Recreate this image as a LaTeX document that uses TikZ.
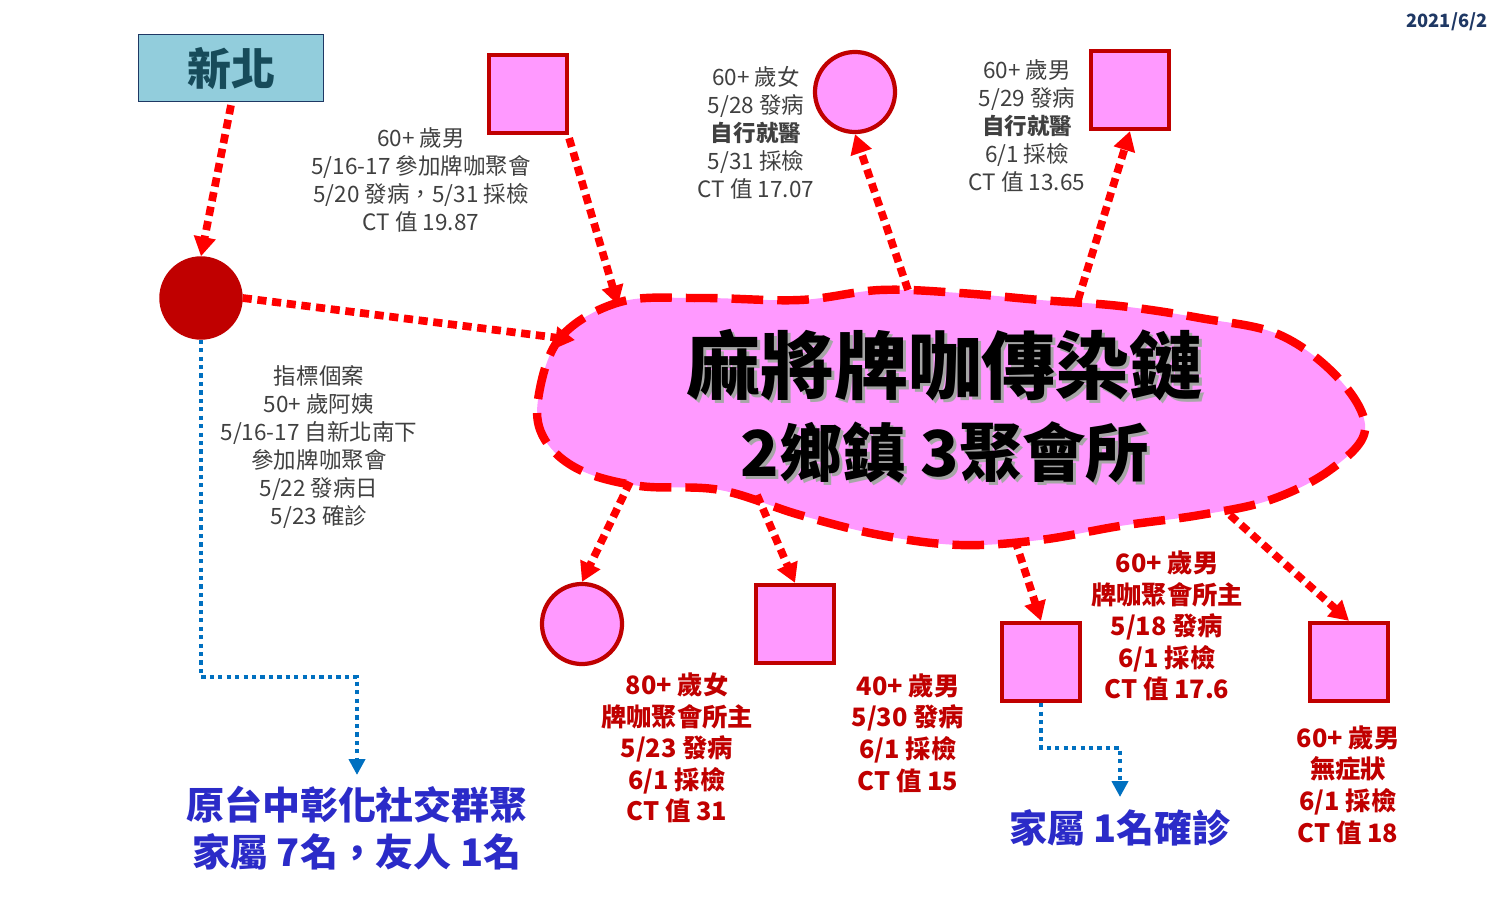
\documentclass[tikz,border=0pt]{standalone}
\usepackage{fontspec}
\setmainfont{Noto Sans CJK TC}
\usetikzlibrary{shapes,arrows,arrows.meta,positioning}
\definecolor{casepink}{HTML}{FF99FF}
\definecolor{caseborder}{HTML}{C00000}
\definecolor{graytext}{HTML}{404040}
\definecolor{bluetext}{HTML}{2B2BC8}
\definecolor{arrowblue}{HTML}{0070C0}
\tikzset{
  casebox/.style={rectangle,draw=caseborder,fill=casepink,line width=1.2pt,minimum size=0.78cm,inner sep=0pt},
  casedot/.style={circle,draw=caseborder,fill=casepink,line width=1.2pt,minimum size=0.8cm,inner sep=0pt},
  graynote/.style={align=center,text=graytext,font=\fontsize{6.4}{8}\selectfont},
  rednote/.style={align=center,text=caseborder,font=\fontsize{7.2}{9}\selectfont\bfseries},
  bluenote/.style={align=center,text=bluetext,font=\fontsize{10.8}{13.5}\selectfont\bfseries},
  redlink/.style={draw=red,line width=2.2pt,dash pattern=on 2.6pt off 1.6pt,-{Triangle[length=5.5pt,width=6pt]}},
  bluelink/.style={draw=arrowblue,line width=1.2pt,dash pattern=on 1.2pt off 1.2pt,-{Triangle[length=4.5pt,width=4.5pt]}}
}
\begin{document}
\begin{tikzpicture}[x=0.01cm,y=-0.01cm]
	\useasboundingbox (0,0) rectangle (1500,903);
	%date
	\node[text={rgb,255:red,31;green,56;blue,100},font=\fontsize{5.2}{6}\selectfont\bfseries] (date) at (1447,22) {2021/6/2};
	%source city
	\node[rectangle,draw={rgb,255:red,31;green,56;blue,100},fill={rgb,255:red,146;green,205;blue,220},minimum width=1.85cm,minimum height=0.67cm,text={rgb,255:red,23;green,75;blue,90},font=\fontsize{12.5}{14}\selectfont\bfseries] (xinbei) at (231,68) {新北};
	%index case
	\node[circle,fill={rgb,255:red,192;green,0;blue,0},draw=caseborder,minimum size=0.82cm,inner sep=0pt] (index) at (201,298) {};
	%cluster cloud
	\draw[red,line width=2.4pt,dash pattern=on 9pt off 4pt,fill=casepink] plot[smooth cycle,tension=0.6] coordinates {
		(538,400) (560,338) (620,302) (700,298) (800,300) (880,290) (960,293) (1040,300)
		(1120,306) (1200,318) (1280,335) (1340,380) (1365,430) (1330,470) (1270,500)
		(1200,515) (1120,526) (1040,540) (960,545) (880,535) (800,515) (720,490)
		(640,486) (580,470) (545,440)};
	\coordinate (cloudW) at (575,340);
	\node[text=gray!70,font=\fontsize{21}{24}\selectfont\bfseries] at (948,368) {麻將牌咖傳染鏈};
	\node[font=\fontsize{21}{24}\selectfont\bfseries] (title) at (945,365) {麻將牌咖傳染鏈};
	\node[text=gray!70,font=\fontsize{18}{20}\selectfont\bfseries] at (948,455) {2鄉鎮 3聚會所};
	\node[font=\fontsize{18}{20}\selectfont\bfseries] (subtitle) at (945,452) {2鄉鎮 3聚會所};
	%cases
	\node[casebox] (caseA) at (528,94) {};
	\node[casedot] (caseB) at (855,92) {};
	\node[casebox] (caseC) at (1130,90) {};
	\node[casedot] (caseD) at (582,624) {};
	\node[casebox] (caseE) at (795,624) {};
	\node[casebox] (caseF) at (1041,662) {};
	\node[casebox] (caseG) at (1349,662) {};
	%notes
	\node[graynote] (noteA) at (421,180) {60+ 歲男\\5/16-17 參加牌咖聚會\\5/20 發病，5/31 採檢\\CT 值 19.87};
	\node[graynote] (noteB) at (756,133) {60+ 歲女\\5/28 發病\\\textbf{自行就醫}\\5/31 採檢\\CT 值 17.07};
	\node[graynote] (noteC) at (1027,126) {60+ 歲男\\5/29 發病\\\textbf{自行就醫}\\6/1 採檢\\CT 值 13.65};
	\node[graynote] (noteI) at (319,447) {指標個案\\50+ 歲阿姨\\5/16-17 自新北南下\\參加牌咖聚會\\5/22 發病日\\5/23 確診};
	\node[rednote] (noteD) at (677,748) {80+ 歲女\\牌咖聚會所主\\5/23 發病\\6/1 採檢\\CT 值 31};
	\node[rednote] (noteE) at (908,733) {40+ 歲男\\5/30 發病\\6/1 採檢\\CT 值 15};
	\node[rednote] (noteF) at (1167,626) {60+ 歲男\\牌咖聚會所主\\5/18 發病\\6/1 採檢\\CT 值 17.6};
	\node[rednote] (noteG) at (1348,785) {60+ 歲男\\無症狀\\6/1 採檢\\CT 值 18};
	\node[bluenote] (groupT) at (357,828) {原台中彰化社交群聚\\家屬 7名，友人 1名};
	\node[bluenote] (groupF) at (1120,828) {家屬 1名確診};
	%red links
	\coordinate (cA) at (618,305);
	\coordinate (cB) at (908,290);
	\coordinate (cC) at (1078,300);
	\coordinate (cD) at (630,482);
	\coordinate (cE) at (757,495);
	\coordinate (cF) at (1015,540);
	\coordinate (cG) at (1230,515);
	\draw[redlink] (xinbei.south) ++(0,3) -- (index.north);
	\draw[redlink] (index.east) -- (cloudW);
	\draw[redlink] (caseA.south east) ++(0,3) -- (cA);
	\draw[redlink] (cB) -- (caseB.south);
	\draw[redlink] (cC) -- (caseC.south);
	\draw[redlink] (cD) -- (caseD.north);
	\draw[redlink] (cE) -- (caseE.north);
	\draw[redlink] (cF) -- (caseF.north);
	\draw[redlink] (cG) -- (caseG.north);
	%blue links
	\draw[bluelink] (index.south) -- (201,677) -- (357,677) -- (357,775);
	\draw[bluelink] (caseF.south) -- (1041,748) -- (1120,748) -- (1120,797);
\end{tikzpicture}
\end{document}
